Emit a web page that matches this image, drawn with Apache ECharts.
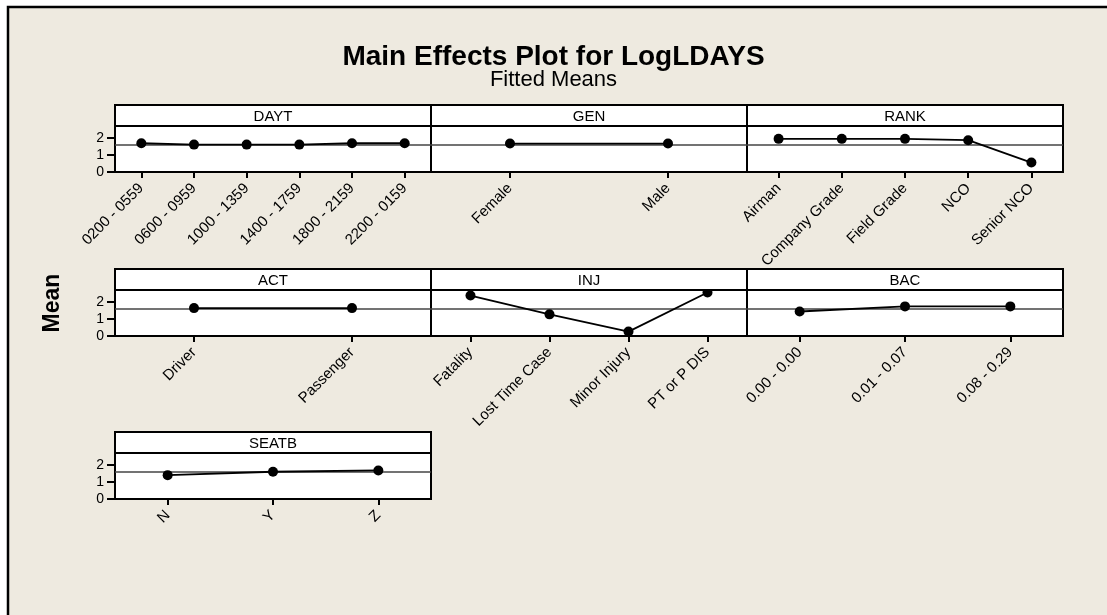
<!DOCTYPE html>
<html><head><meta charset="utf-8">
<script src="https://cdn.jsdelivr.net/npm/echarts@6/dist/echarts.min.js"></script>
<style>html,body{margin:0;padding:0;background:#fff}#c{width:1107px;height:615px}</style>
</head><body><div id="c"></div>
<script>
// ---- data ----
const panelNames = ['DAYT', 'GEN', 'RANK', 'ACT', 'INJ', 'BAC', 'SEATB'];
const daytLevels = ['0200 - 0559', '0600 - 0959', '1000 - 1359', '1400 - 1759', '1800 - 2159', '2200 - 0159'];
const daytMeans = [1.70, 1.62, 1.62, 1.62, 1.70, 1.70];
const genLevels = ['Female', 'Male'];
const genMeans = [1.68, 1.68];
const rankLevels = ['Airman', 'Company Grade', 'Field Grade', 'NCO', 'Senior NCO'];
const rankMeans = [1.96, 1.96, 1.96, 1.88, 0.56];
const actLevels = ['Driver', 'Passenger'];
const actMeans = [1.65, 1.65];
const injLevels = ['Fatality', 'Lost Time Case', 'Minor Injury', 'PT or P DIS'];
const injMeans = [2.39, 1.28, 0.26, 2.57];
const bacLevels = ['0.00 - 0.00', '0.01 - 0.07', '0.08 - 0.29'];
const bacMeans = [1.45, 1.75, 1.75];
const seatbLevels = ['N', 'Y', 'Z'];
const seatbMeans = [1.41, 1.61, 1.69];
const grandMean = 1.63;
const yTickValues = [0, 1, 2];
const yMin = 0, yMax = 2.72;

// ---- layout ----
const FONT = '"Liberation Sans", Arial, sans-serif';
const levels = [daytLevels, genLevels, rankLevels, actLevels, injLevels, bacLevels, seatbLevels];
const means = [daytMeans, genMeans, rankMeans, actMeans, injMeans, bacMeans, seatbMeans];
const colLeft = [115, 431, 747];
const rowTop = [126, 290, 453];
const panelW = 316, plotH = 46, stripH = 21;

const grids = [], xAxes = [], yAxes = [], series = [], graphics = [];

graphics.push({
  type: 'rect', z: -100, silent: true,
  shape: { x: 8, y: 7, width: 1200, height: 700 },
  style: { fill: '#EEEAE0', stroke: '#000', lineWidth: 2.5 }
});
graphics.push({
  type: 'text', z: 10, silent: true, x: 53, y: 303, rotation: Math.PI / 2,
  style: { text: 'Mean', font: 'bold 23px ' + FONT, fill: '#000', align: 'center', verticalAlign: 'middle' }
});

panelNames.forEach((name, i) => {
  const r = Math.floor(i / 3), c = i % 3;
  const left = colLeft[c], top = rowTop[r];
  grids.push({
    left: left, top: top, width: panelW, height: plotH,
    show: true, backgroundColor: '#fff', borderColor: '#000', borderWidth: 2
  });
  xAxes.push({
    gridIndex: i, type: 'category', data: levels[i], boundaryGap: true,
    axisLine: { show: false },
    axisTick: { show: true, alignWithLabel: true, length: 6, lineStyle: { color: '#000', width: 2 } },
    axisLabel: { interval: 0, rotate: 45, margin: 14, fontSize: 15, color: '#000', fontFamily: FONT },
    splitLine: { show: false }
  });
  const showY = c === 0;
  yAxes.push({
    gridIndex: i, type: 'value', min: yMin, max: yMax, interval: 1,
    axisLine: { show: false },
    axisTick: { show: showY, length: 8, customValues: yTickValues, lineStyle: { color: '#000', width: 2 } },
    axisLabel: { show: showY, customValues: yTickValues, margin: 11, fontSize: 14, color: '#000', fontFamily: FONT },
    splitLine: { show: false }
  });
  series.push({
    type: 'line', xAxisIndex: i, yAxisIndex: i, data: means[i],
    symbol: 'circle', symbolSize: 10, z: 5,
    itemStyle: { color: '#000' }, lineStyle: { color: '#000', width: 1.8 },
    markLine: {
      silent: true, symbol: 'none', z: 3, animation: false,
      label: { show: false },
      lineStyle: { color: '#444', width: 1.5, type: 'solid' },
      data: [{ yAxis: grandMean }]
    },
    animation: false
  });
  graphics.push({
    type: 'rect', z: 10, silent: true,
    shape: { x: left, y: top - stripH, width: panelW, height: stripH },
    style: { fill: '#fff', stroke: '#000', lineWidth: 2 }
  });
  graphics.push({
    type: 'text', z: 11, silent: true, x: left + panelW / 2, y: top - stripH / 2 + 1,
    style: { text: name, font: '15px ' + FONT, fill: '#000', align: 'center', verticalAlign: 'middle' }
  });
});

const chart = echarts.init(document.getElementById('c'), null, { renderer: 'canvas' });
chart.setOption({
  backgroundColor: '#fff',
  animation: false,
  title: [
    { text: 'Main Effects Plot for LogLDAYS', left: 'center', top: 38,
      textStyle: { fontSize: 28, fontWeight: 'bold', color: '#000', fontFamily: FONT } },
    { text: 'Fitted Means', left: 'center', top: 64,
      textStyle: { fontSize: 22, fontWeight: 'normal', color: '#000', fontFamily: FONT } }
  ],
  grid: grids, xAxis: xAxes, yAxis: yAxes, series: series,
  graphic: graphics
});
</script></body></html>
